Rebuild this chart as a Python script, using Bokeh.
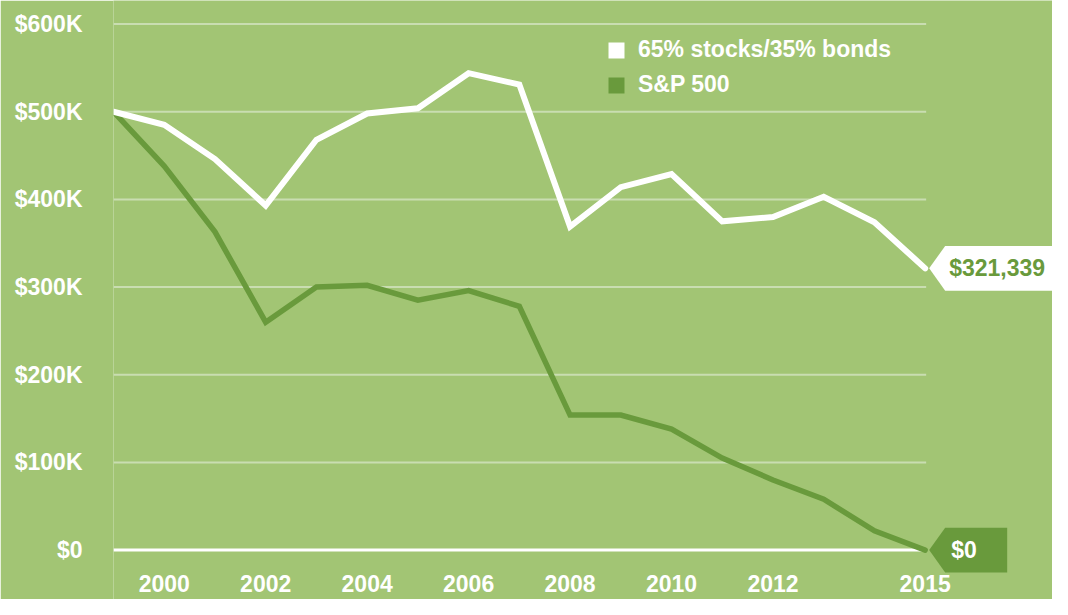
from bokeh.plotting import figure
from bokeh.models import FixedTicker, Range1d, Legend, LegendItem
from bokeh.embed import file_html
from bokeh.resources import INLINE
from bokeh.core.properties import value

# ---------------- data ----------------
years = list(range(1999, 2016))
balanced = [500000, 485000, 446000, 393000, 468000, 498000, 504000, 544000,
            531000, 369000, 414000, 429000, 375000, 380000, 403000, 374000, 321339]
sp500 = [500000, 438000, 363000, 260000, 300000, 302000, 285000, 296000,
         278000, 154000, 154000, 138000, 105000, 80000, 58000, 22000, 0]
series_names = ["65% stocks/35% bonds", "S&P 500"]
end_labels = ["$321,339", "$0"]
y_ticks = [0, 100000, 200000, 300000, 400000, 500000, 600000]
y_tick_labels = ["$0", "$100K", "$200K", "$300K", "$400K", "$500K", "$600K"]
x_ticks = [2000, 2002, 2004, 2006, 2008, 2010, 2012, 2015]
x_tick_labels = ["2000", "2002", "2004", "2006", "2008", "2010", "2012", "2015"]

# ---------------- style ----------------
BG = "#a2c574"
GREEN = "#699a3c"
WHITE = "#ffffff"
GRID = "#c9ddb1"
FONT = "Liberation Sans"
FS = "23px"

W, H = 1052, 599
LEFT = 113
FRAME_W = W - LEFT
X0, X1 = 1999.0, 2017.51
Y0, Y1 = -56345.0, 626874.0
PX_X = (X1 - X0) / FRAME_W
PX_Y = (Y1 - Y0) / H

p = figure(width=W, height=H, output_backend="svg", toolbar_location=None,
           x_range=Range1d(X0, X1), y_range=Range1d(Y0, Y1),
           min_border_left=LEFT, min_border_right=0, min_border_top=0,
           min_border_bottom=0)
p.background_fill_color = BG
p.border_fill_color = BG
p.outline_line_color = None
p.xgrid.visible = False
p.ygrid.visible = False

# axes
for ax in (p.xaxis[0], p.yaxis[0]):
    ax.axis_line_color = None
    ax.major_tick_line_color = None
    ax.minor_tick_line_color = None
    ax.major_label_text_color = WHITE
    ax.major_label_text_font = FONT
    ax.major_label_text_font_style = "bold"
    ax.major_label_text_font_size = FS

p.yaxis.ticker = FixedTicker(ticks=y_ticks)
p.yaxis.major_label_overrides = dict(zip(y_ticks, y_tick_labels))
p.yaxis.major_label_standoff = 25

p.xaxis.ticker = FixedTicker(ticks=x_ticks)
p.xaxis.major_label_overrides = dict(zip(x_ticks, x_tick_labels))
p.xaxis.fixed_location = -21500
p.xaxis.major_label_standoff = 0

# grid lines (only across the data span)
gx0, gx1 = years[0], years[-1] + 1 * PX_X
grid_vals = [t for t in y_ticks if t != 0]
p.segment(x0=[gx0] * len(grid_vals), x1=[gx1] * len(grid_vals),
          y0=grid_vals, y1=grid_vals, line_color=GRID, line_width=2)
p.segment(x0=[gx0], x1=[gx1], y0=[0], y1=[0], line_color=WHITE, line_width=3)

# lines
p.line(years, sp500, line_color=GREEN, line_width=5.5,
       line_join="miter", line_cap="round")
p.line(years, balanced, line_color=WHITE, line_width=6,
       line_join="miter", line_cap="round")

# end tags
def tag(end_x, end_y, right_px):
    tip = end_x + 4 * PX_X
    body = end_x + 20 * PX_X
    right = end_x + right_px * PX_X
    half = 22.4 * PX_Y
    xs = [tip, body, right, right, body]
    ys = [end_y, end_y + half, end_y + half, end_y - half, end_y - half]
    return xs, ys

wx, wy = tag(years[-1], balanced[-1], 140)
gxs, gys = tag(years[-1], sp500[-1], 82)
p.patches([wx, gxs], [wy, gys], fill_color=[WHITE, GREEN], line_color=None)

p.text(x=[years[-1]], y=[balanced[-1]], text=[end_labels[0]], x_offset=24,
       text_color=GREEN, text_font=value(FONT), text_font_style="bold",
       text_font_size=FS, text_baseline="middle", text_align="left")
p.text(x=[years[-1]], y=[sp500[-1]], text=[end_labels[1]], x_offset=26,
       text_color=WHITE, text_font=value(FONT), text_font_style="bold",
       text_font_size=FS, text_baseline="middle", text_align="left")

# legend (square swatches; NaN quads only carry the legend style)
nan = float("nan")
q1 = p.quad(left=[nan], right=[nan], top=[nan], bottom=[nan],
            fill_color=WHITE, line_color=None)
q2 = p.quad(left=[nan], right=[nan], top=[nan], bottom=[nan],
            fill_color=GREEN, line_color=None)
legend = Legend(items=[LegendItem(label=series_names[0], renderers=[q1]),
                       LegendItem(label=series_names[1], renderers=[q2])],
                location=(493, 501), orientation="vertical",
                glyph_width=20, glyph_height=20, label_standoff=12,
                spacing=8, padding=0, margin=0,
                border_line_color=None, background_fill_alpha=0,
                label_text_color=WHITE, label_text_font=FONT,
                label_text_font_style="bold", label_text_font_size=FS)
p.add_layout(legend, "center")

open("out.html", "w").write(file_html(p, INLINE))
